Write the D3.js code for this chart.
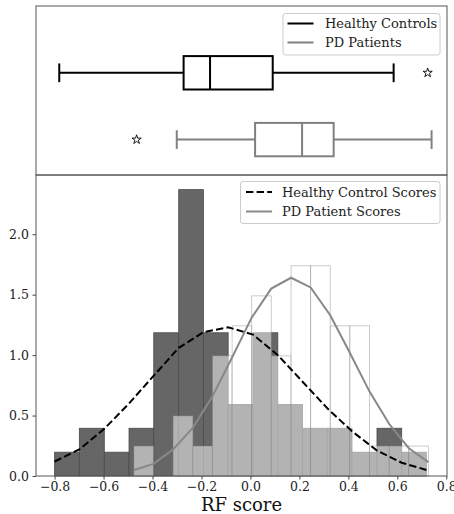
<!DOCTYPE html>
<html>
<head>
<meta charset="utf-8">
<script src="https://cdn.jsdelivr.net/npm/d3@7"></script>
<style>
  html, body { margin: 0; padding: 0; background: #fff; }
  svg { display: block; font-family: "DejaVu Serif", serif; }
  .tick text { fill: #222; font-size: 12.5px; }
  .tick line { stroke: #444; }
</style>
</head>
<body>
<svg id="chart"></svg>
<script>
// box plot summaries (min whisker, q1, median, q3, max whisker, outliers)
const GROUPS = ["Healthy Controls", "PD Patients"];
const BOX_STATS = [
  { lo: -0.781, q1: -0.273, med: -0.165, q3: 0.091, hi: 0.585, out: [0.724] },
  { lo: -0.301, q1: 0.019, med: 0.211, q3: 0.340, hi: 0.740, out: [-0.465] }
];

// histograms (density)
const HC_EDGES = [-0.800, -0.699, -0.597, -0.496, -0.395, -0.293, -0.192, -0.091,
                  0.010, 0.112, 0.213, 0.314, 0.415, 0.517, 0.618, 0.719];
const HC_DENS = [0.197, 0.395, 0.197, 0.395, 1.185, 2.369, 1.185, 0.592,
                 1.185, 0.592, 0.395, 0.395, 0.197, 0.395, 0.197];
const PD_EDGES = [-0.476, -0.396, -0.316, -0.235, -0.155, -0.075, 0.005, 0.085,
                  0.166, 0.246, 0.326, 0.406, 0.486, 0.567, 0.647, 0.727];
const PD_DENS = [0.248, 0, 0.497, 0.248, 0.994, 1.242, 1.49, 0.994,
                 1.739, 1.739, 1.242, 1.242, 0.248, 0.248, 0.248];

// fitted curves read at the bin edges
const HC_CURVE = [0.12, 0.22, 0.39, 0.60, 0.83, 1.06, 1.19, 1.23,
                  1.17, 1.00, 0.78, 0.56, 0.37, 0.21, 0.11, 0.05];
const PD_CURVE = [0.05, 0.10, 0.22, 0.40, 0.66, 0.98, 1.31, 1.55,
                  1.64, 1.56, 1.33, 1.02, 0.70, 0.43, 0.23, 0.115];

const X_TICKS = [-0.8, -0.6, -0.4, -0.2, 0.0, 0.2, 0.4, 0.6, 0.8];
const Y_TICKS = [0.0, 0.5, 1.0, 1.5, 2.0];

const W = 454, H = 514;
const L = 36, R = 447;
const T1 = 6, B1 = 175, T2 = 175, B2 = 476;

const svg = d3.select("#chart").attr("width", W).attr("height", H);

const x = d3.scaleLinear().domain([-0.876, 0.803]).range([L, R]);
const yBox = d3.scaleLinear().domain([0, 2.53]).range([T1, B1]);
const y = d3.scaleLinear().domain([0, 2.49]).range([B2, T2]);

const boxColor = ["#000", "#808080"];

// ---- top panel: box plots
const gTop = svg.append("g");
BOX_STATS.forEach((s, i) => {
  const pos = i + 1;
  const c = boxColor[i];
  const g = gTop.append("g").attr("stroke", c).attr("stroke-width", 2).attr("fill", "none");
  g.append("line").attr("x1", x(s.lo)).attr("x2", x(s.q1)).attr("y1", yBox(pos)).attr("y2", yBox(pos));
  g.append("line").attr("x1", x(s.q3)).attr("x2", x(s.hi)).attr("y1", yBox(pos)).attr("y2", yBox(pos));
  [s.lo, s.hi].forEach(v => {
    g.append("line").attr("x1", x(v)).attr("x2", x(v))
      .attr("y1", yBox(pos - 0.14)).attr("y2", yBox(pos + 0.14));
  });
  g.append("rect").attr("x", x(s.q1)).attr("width", x(s.q3) - x(s.q1))
    .attr("y", yBox(pos - 0.25)).attr("height", yBox(pos + 0.25) - yBox(pos - 0.25));
  g.append("line").attr("x1", x(s.med)).attr("x2", x(s.med))
    .attr("y1", yBox(pos - 0.25)).attr("y2", yBox(pos + 0.25));
  s.out.forEach(v => {
    gTop.append("path")
      .attr("d", d3.symbol(d3.symbolStar, 26)())
      .attr("transform", "translate(" + x(v) + "," + yBox(pos) + ")")
      .attr("fill", "#fff").attr("stroke", "#000").attr("stroke-width", 0.9);
  });
});

gTop.append("rect").attr("x", L).attr("y", T1).attr("width", R - L).attr("height", B1 - T1)
  .attr("fill", "none").attr("stroke", "#555").attr("stroke-width", 1);

// top legend
const lg1 = svg.append("g").attr("transform", "translate(283,13.5)");
lg1.append("rect").attr("width", 157).attr("height", 41.5).attr("rx", 2.5)
  .attr("fill", "#fff").attr("fill-opacity", 0.8).attr("stroke", "#ccc");
GROUPS.forEach((name, i) => {
  const yy = 10 + i * 19;
  lg1.append("line").attr("x1", 4.5).attr("x2", 30.5).attr("y1", yy).attr("y2", yy)
    .attr("stroke", boxColor[i]).attr("stroke-width", 2);
  lg1.append("text").attr("x", 42).attr("y", yy + 4.5).attr("font-size", 13)
    .attr("fill", "#222").text(name);
});

// ---- bottom panel: histograms
const gHist = svg.append("g");
const hcBins = HC_DENS.map((d, i) => ({ x0: HC_EDGES[i], x1: HC_EDGES[i + 1], d: d }));
const pdBins = PD_DENS.map((d, i) => ({ x0: PD_EDGES[i], x1: PD_EDGES[i + 1], d: d }));

gHist.selectAll("rect.hc").data(hcBins).join("rect")
  .attr("class", "hc")
  .attr("x", b => x(b.x0)).attr("width", b => x(b.x1) - x(b.x0))
  .attr("y", b => y(b.d)).attr("height", b => y(0) - y(b.d))
  .attr("fill", "#666").attr("stroke", "#4a4a4a").attr("stroke-width", 0.8);

gHist.selectAll("rect.pd").data(pdBins.filter(b => b.d > 0)).join("rect")
  .attr("class", "pd")
  .attr("x", b => x(b.x0)).attr("width", b => x(b.x1) - x(b.x0))
  .attr("y", b => y(b.d)).attr("height", b => y(0) - y(b.d))
  .attr("fill", "#fff").attr("fill-opacity", 0.5)
  .attr("stroke", "#808080").attr("stroke-opacity", 0.5).attr("stroke-width", 0.8);

const line = d3.line().x(d => x(d[0])).y(d => y(d[1]));

svg.append("path")
  .attr("d", line(HC_EDGES.map((e, i) => [e, HC_CURVE[i]])))
  .attr("fill", "none").attr("stroke", "#000").attr("stroke-width", 2)
  .attr("stroke-dasharray", "7.4,3.2");

svg.append("path")
  .attr("d", line(PD_EDGES.map((e, i) => [e, PD_CURVE[i]])))
  .attr("fill", "none").attr("stroke", "#888").attr("stroke-width", 2);

// axes
svg.append("g").attr("transform", "translate(0," + B2 + ")")
  .call(d3.axisBottom(x).tickValues(X_TICKS).tickFormat(d3.format(".1f"))
    .tickSize(3.5).tickSizeOuter(0).tickPadding(3))
  .call(g => g.select(".domain").remove());

svg.append("g").attr("transform", "translate(" + L + ",0)")
  .call(d3.axisLeft(y).tickValues(Y_TICKS).tickFormat(d3.format(".1f"))
    .tickSize(3.5).tickSizeOuter(0).tickPadding(3.5))
  .call(g => g.select(".domain").remove());

svg.selectAll(".tick text").attr("font-family", "DejaVu Serif, serif");

svg.append("rect").attr("x", L).attr("y", T2).attr("width", R - L).attr("height", B2 - T2)
  .attr("fill", "none").attr("stroke", "#555").attr("stroke-width", 1);

svg.append("text").attr("x", (L + R) / 2).attr("y", 511)
  .attr("text-anchor", "middle").attr("font-size", 18).attr("fill", "#111")
  .text("RF score");

// bottom legend
const lg2 = svg.append("g").attr("transform", "translate(240.5,181.5)");
lg2.append("rect").attr("width", 199.5).attr("height", 42).attr("rx", 2.5)
  .attr("fill", "#fff").attr("fill-opacity", 0.8).attr("stroke", "#ccc");
lg2.append("line").attr("x1", 5.5).attr("x2", 31.5).attr("y1", 10.5).attr("y2", 10.5)
  .attr("stroke", "#000").attr("stroke-width", 2).attr("stroke-dasharray", "7.4,3.2");
lg2.append("text").attr("x", 41.5).attr("y", 15).attr("font-size", 13).attr("fill", "#222")
  .text("Healthy Control Scores");
lg2.append("line").attr("x1", 5.5).attr("x2", 31.5).attr("y1", 30).attr("y2", 30)
  .attr("stroke", "#888").attr("stroke-width", 2);
lg2.append("text").attr("x", 41.5).attr("y", 34.5).attr("font-size", 13).attr("fill", "#222")
  .text("PD Patient Scores");
</script>
</body>
</html>
